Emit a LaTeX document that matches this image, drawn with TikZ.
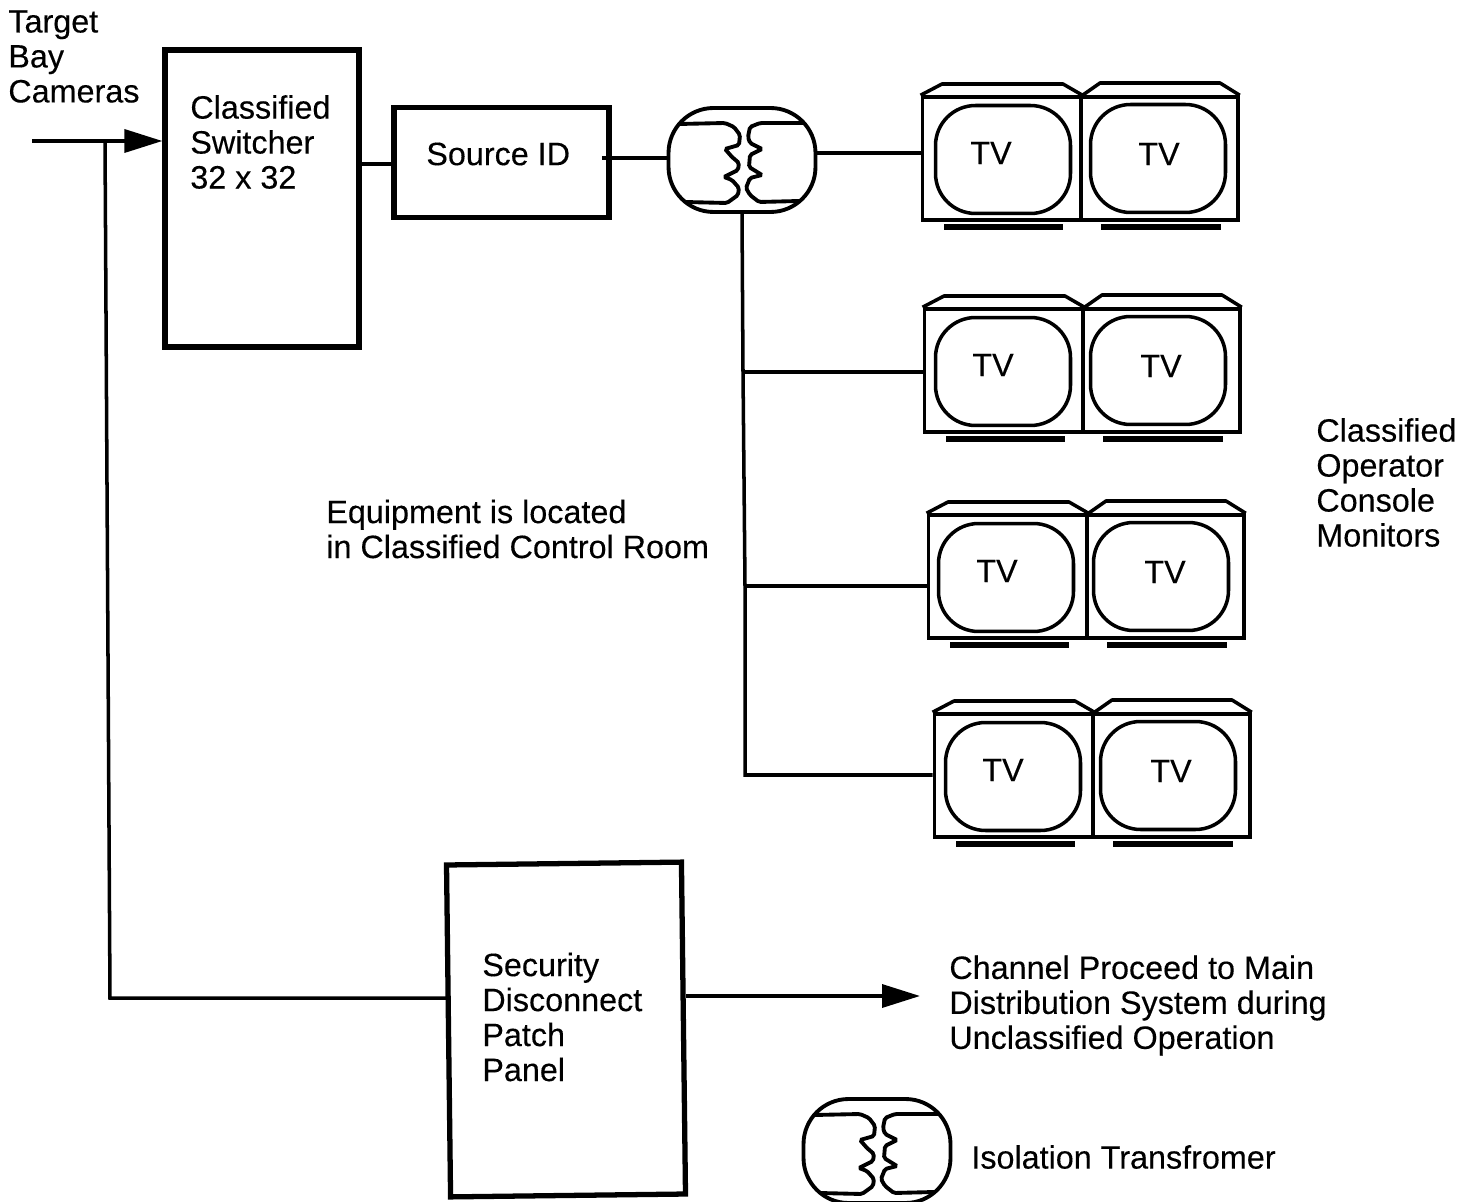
\documentclass[tikz,border=0pt]{standalone}
\usepackage{fontspec}
\setmainfont[FakeBold=0.25]{Liberation Sans}
\usetikzlibrary{arrows.meta,positioning,calc}

\begin{document}
\begin{tikzpicture}[x=0.02cm,y=-0.02cm,
  lbl/.style={anchor=west,align=left,inner sep=0pt,font=\fontsize{18.4}{19.9}\selectfont},
  box/.style={draw,line width=3pt,inner sep=0pt},
  tvbody/.style={draw,line width=2pt,inner sep=0pt,minimum width=3.17cm,minimum height=2.46cm},
  tvscreen/.style={draw,line width=2pt,rounded corners=0.8cm,inner sep=0pt,minimum width=2.7cm,minimum height=2.16cm},
  isobox/.style={draw,line width=2.2pt,rounded corners=0.9cm,inner sep=0pt,minimum width=2.94cm,minimum height=2.08cm},
  coil/.style={line width=2.2pt,rounded corners=1pt},
  wire/.style={line width=2pt},
  bigarrow/.style={line width=2pt,-{Stealth[length=0.76cm,width=0.46cm,inset=0pt]}}]
  \useasboundingbox (0,0) rectangle (1473,1202);
  % Main boxes
  \node[box,minimum width=3.88cm,minimum height=5.94cm] (switcher) at (262,198.5) {};
  \node[box,minimum width=4.3cm,minimum height=2.2cm] (source) at (501.5,162.5) {};
  \node[box,rotate=0.7,minimum width=4.7cm,minimum height=6.64cm] (panel) at (566,1029.5) {};
  % Isolation transformers
  \foreach \n/\x/\y in {xfm/742/160,xfmkey/877/1151}{
    \node[isobox] (\n) at (\x,\y) {};
    \begin{scope}[shift={(\x,\y)}]
      \draw[coil] (-63,-36) -- (-17,-37) -- (-8,-33) -- (-2,-25) -- (-3,-15) -- (-17,-11) -- (-10,-3) -- (-3,3) -- (-4,10) -- (-18,17) -- (-10,20) -- (-3,28) -- (-4,35) -- (-15,43) -- (-57,42);
      \draw[coil] (62,-37) -- (18,-37) -- (8,-33) -- (6,-23) -- (8,-17) -- (20,-11) -- (8,-5) -- (7,7) -- (20,15) -- (8,18) -- (4,28) -- (8,35) -- (17,42) -- (57,41);
    \end{scope}
  }
  % Monitor pairs
  \foreach \r/\dx/\dy/\sx in {1/0/0/0,2/2/212/-2,3/6/418/-3,4/12/617/-2}{
    \begin{scope}[shift={(\dx,\dy)}]
      \node[tvbody] (tvl\r) at (1001.5,158.5) {};
      \node[tvbody,minimum width=3.14cm] (tvr\r) at (1159.5,158.5) {};
      \node[tvscreen] (scl\r) at (1003+\sx,159.5) {};
      \node[tvscreen] (scr\r) at (1158+\sx,158.5) {};
      \node[lbl,anchor=center] (tl\r) at (991,153) {TV};
      \node[lbl,anchor=center] (tr\r) at (1159,154) {TV};
      \draw[line width=2pt,line join=round] (tvl\r.north west) -- (942,84) -- (1063,84) -- (tvl\r.north east) -- (1100,83) -- (1220,83) -- (tvr\r.north east);
      \draw[line width=3.4pt] (944,227) -- (1063,227);
      \draw[line width=3.4pt] (1101,227) -- (1221,227);
    \end{scope}
  }
  % Signal path
  \coordinate (cam) at (32,141);
  \coordinate (tee) at (105,141);
  \coordinate (srcout) at (602,158);
  \coordinate (j1) at (816,153);
  \coordinate (j2) at (743,372);
  \coordinate (j3) at (745,586);
  \coordinate (j4) at (745,775);
  \coordinate (low) at (110,998);
  \coordinate (out) at (920,996);
  \draw[bigarrow] (cam) -- (cam -| switcher.west);
  \draw[wire] (tee) -- (low) -- (low -| panel.west);
  \draw[wire] (switcher.east |- 0,164) -- (source.west |- 0,164);
  \draw[wire] (srcout) -- (srcout -| xfm.west);
  \draw[wire] (j1) -- (j1 -| tvl1.west);
  \draw[wire] (xfm.south) -- (j2) -- (j3) -- (j4) -- (j4 -| tvl4.west);
  \draw[wire] (j2) -- (j2 -| tvl2.west);
  \draw[wire] (j3) -- (j3 -| tvl3.west);
  \draw[bigarrow] (panel.east |- out) -- (out);
  % Labels
  \node[lbl] (camlbl) at (8,56.5) {Target\\Bay\\Cameras};
  \node[lbl] (swlbl) at (190,142) {Classified\\Switcher\\32 x 32};
  \node[lbl] (srclbl) at (426,154) {Source ID};
  \node[lbl] (eqlbl) at (326,529) {Equipment is located\\in Classified Control Room};
  \node[lbl] (conlbl) at (1316,482.5) {Classified\\Operator\\Console\\Monitors};
  \node[lbl] (panlbl) at (482,1017) {Security\\Disconnect\\Patch\\Panel};
  \node[lbl] (chlbl) at (949,1005.5) {Channel Proceed to Main\\Distribution System during\\Unclassified Operation};
  \node[lbl] (keylbl) at (971,1157) {Isolation Transfromer};
\end{tikzpicture}
\end{document}
